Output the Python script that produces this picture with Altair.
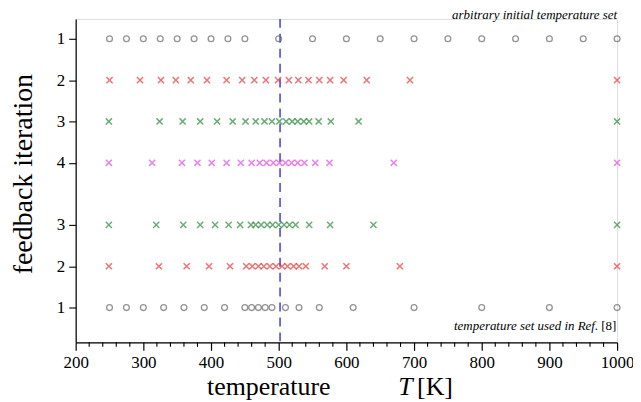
import altair as alt
import pandas as pd

# ---- data ----
top_iter1 = [250, 275, 300, 325, 350, 375, 400, 425, 450, 500, 550, 600, 650, 700, 750, 800, 850, 900, 950, 1000]
top_iter2 = [250, 295, 326, 348, 370, 394, 423, 446, 464, 481, 499, 515, 529, 544, 560, 576, 596, 630, 694, 1000]
top_iter3 = [249, 324, 358, 384, 409, 432, 451, 466, 479, 490, 501, 511, 520, 528, 537, 545, 559, 577, 618, 1000]
iter4 = [249, 313, 357, 380, 401, 423, 444, 460, 472, 482, 492, 501, 510, 519, 528, 538, 554, 575, 670, 1000]
bot_iter3 = [249, 319, 359, 384, 406, 426, 443, 459, 466, 474, 483, 491, 500, 508, 516, 525, 545, 576, 640, 1000]
bot_iter2 = [249, 323, 364, 397, 428, 452, 461, 470, 478, 487, 496, 505, 513, 522, 530, 540, 568, 600, 679, 1000]
bot_iter1 = [250, 275, 300, 330, 360, 390, 420, 450, 460, 470, 480, 490, 510, 530, 560, 610, 700, 800, 900, 1000]

row_pos = [0, 1, 2, 3, 4.5, 5.5, 6.5]
row_labels = ["1", "2", "3", "4", "3", "2", "1"]
row_series = ["iter1", "iter2", "iter3", "iter4", "iter3", "iter2", "iter1"]
rows = [top_iter1, top_iter2, top_iter3, iter4, bot_iter3, bot_iter2, bot_iter1]

series_names = ["iter1", "iter2", "iter3", "iter4"]
series_colors = ["#666666", "#e8383d", "#2e8b3c", "#e050e0"]

x_major = [200, 300, 400, 500, 600, 700, 800, 900, 1000]
x_minor = [v for v in range(200, 1001, 20) if v % 100 != 0]
dashed_T = [502]

recs = []
for pos, ser, vals in zip(row_pos, row_series, rows):
    for v in vals:
        recs.append({"T": v, "pos": pos, "series": ser})
df = pd.DataFrame(recs)

FONT = "Liberation Serif"
W, H = 544, 325

xscale = alt.Scale(domain=[200, 1000], nice=False, zero=False)
yscale = alt.Scale(domain=[-0.48, 7.34], reverse=True, nice=False, zero=False)
color_scale = alt.Scale(domain=series_names, range=series_colors)

label_map = "{" + ",".join(f"'{p}':'{l}'" for p, l in zip(row_pos, row_labels)) + "}"

x_axis = alt.Axis(values=x_major, title=None, grid=False, orient="bottom", format="d",
                  tickSize=8, tickWidth=1.2, domainWidth=1.2, domainColor="black",
                  tickColor="black", labelFont=FONT, labelFontSize=17,
                  labelColor="black", labelPadding=4, labelFlush=False)
y_axis = alt.Axis(values=row_pos, labelExpr=f"{label_map}[datum.value]",
                  title=None, grid=False, tickSize=7, tickWidth=1.1,
                  domainWidth=1.2, domainColor="black", tickColor="black",
                  labelFont=FONT, labelFontSize=17, labelColor="black",
                  labelPadding=4)

def X():
    return alt.X("T:Q", scale=xscale, axis=x_axis)

def Y():
    return alt.Y("pos:Q", scale=yscale, axis=y_axis)

base = alt.Chart(df)

circles = base.transform_filter(alt.datum.series == "iter1").mark_point(
    shape="circle", filled=False, size=34, strokeWidth=1.3
).encode(x=X(), y=Y(),
         color=alt.Color("series:N", scale=color_scale, legend=None))

crosses = base.transform_filter(alt.datum.series != "iter1").mark_point(
    shape="M-1,-1L1,1M-1,1L1,-1", filled=False, size=38, strokeWidth=1.5
).encode(x=X(), y=Y(),
         color=alt.Color("series:N", scale=color_scale, legend=None))

dash = alt.Chart(pd.DataFrame({"T": dashed_T})).mark_rule(
    color="#4b4be6", strokeWidth=1.6, strokeDash=[9, 6]
).encode(x=X())

minor = alt.Chart(pd.DataFrame({"T": x_minor})).mark_rule(
    color="black", strokeWidth=1.1, clip=False
).encode(x=X(), y=alt.value(H), y2=alt.value(H + 4.5))

def txt(text, x, y, size, style="normal", align="left", angle=0, baseline="alphabetic"):
    kw = dict(text=text, font=FONT, fontSize=size, fontStyle=style, align=align,
              baseline=baseline, color="black")
    if angle:
        kw["angle"] = angle
    return alt.Chart(pd.DataFrame({"a": [0]})).mark_text(**kw).encode(
        x=alt.value(x), y=alt.value(y))

texts = [
    txt("temperature", 194, 378, 26, align="center"),
    txt("T", 324, 378, 26, style="italic"),
    txt("[K]", 343, 378, 26),
    txt("feedback iteration", -52, 156, 28, align="center", angle=270, baseline="middle"),
    txt("arbitrary initial temperature set", 544, 0, 13, style="italic", align="right"),
    txt("temperature set used in Ref.", 525, 313, 13, style="italic", align="right"),
    txt("[8]", 528, 313, 13),
]

chart = alt.layer(dash, minor, circles, crosses, *texts).properties(
    width=W, height=H,
    autosize=alt.AutoSizeParams(type="none"),
    padding={"left": 68, "top": 10, "right": 16, "bottom": 58},
).configure_view(stroke=None).configure_axis(
    labelFont=FONT, labelFontSize=17, labelColor="black"
).configure(background="white")

chart.save("out.html", embed_options={"renderer": "svg", "actions": False})
